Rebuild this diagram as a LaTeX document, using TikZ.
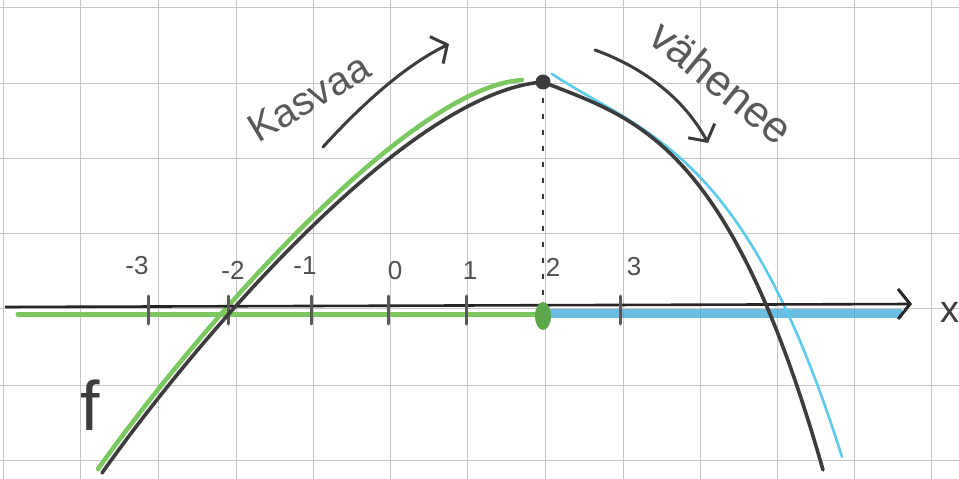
\documentclass[tikz,border=0pt]{standalone}
\usepackage{fontspec}
\setmainfont{Liberation Sans}
\usetikzlibrary{arrows.meta}
\definecolor{pencil}{HTML}{3C3C3C}
\definecolor{grn}{HTML}{7CC860}
\definecolor{grndark}{HTML}{5DA84A}
\definecolor{blu}{HTML}{3AA8D8}
\definecolor{cyn}{HTML}{5CCBEA}
\tikzset{
  gridline/.style={gray!45, line width=0.8pt},
  curve/.style={pencil, line width=3.6pt, line cap=round, line join=round},
  tickmark/.style={pencil!85, line width=3pt, line cap=round},
  lbl/.style={text=pencil!90, font=\fontsize{26}{28}\selectfont, inner sep=0pt},
  word/.style={text=pencil!85, font=\fontsize{40}{42}\selectfont, inner sep=0pt},
  barb/.style={-{Straight Barb[length=12pt,width=30pt,line width=3pt]}}
}
\begin{document}
\begin{tikzpicture}[x=1pt,y=-1pt]
\useasboundingbox (0,0) rectangle (959,479);
\fill[white] (0,0) rectangle (959,479);
% grid
\foreach \gx in {3,80,158,236,313,390,467,545,623,700,777,854,931}
  \draw[gridline] (\gx,0) -- (\gx,479);
\foreach \gy in {7,83,158,233,308,385,460}
  \draw[gridline] (0,\gy) -- (959,\gy);
% coloured axis bands
\draw[grn, line width=5pt, line cap=round] (18,314) -- (540,314);
\draw[blu, opacity=0.75, line width=9pt] (550,313) -- (902,313);
% coloured curve overlays
\draw[grn, line width=4.5pt, line cap=round] (98,469) .. controls (199,327) and (408,88) .. (522,80);
\draw[cyn, line width=2.6pt, line cap=round] plot[domain=0:2.9, samples=60]
  ({552+100*\x},{74+65.1*\x-17.76*\x*\x+14.08*\x*\x*\x});
% axis
\draw[black!85, line width=2.6pt, barb] (5,307) -- (912,304);
\node[text=pencil, font=\fontsize{38}{40}\selectfont, inner sep=0pt] (xl) at (950,312) {x};
% ticks
\foreach \tx in {148,228,311,388,466,620}
  \draw[tickmark] (\tx,296) -- (\tx,324);
\fill[grndark] (543,316) ellipse (8 and 14);
% tick labels
\node[lbl] (lm3) at (137,266) {-3};
\node[lbl] (lm2) at (233,270) {-2};
\node[lbl] (lm1) at (305,266) {-1};
\node[lbl] (l0)  at (395,271) {0};
\node[lbl] (l1)  at (470,271) {1};
\node[lbl] (l2)  at (553,267) {2};
\node[lbl] (l3)  at (634,267) {3};
% dashed line from vertex
\draw[pencil, line width=2.4pt, dash pattern=on 5pt off 11pt] (543,98) -- (543,300);
% graph f
\draw[curve] (102,473) .. controls (202,332) and (410,92) .. (543,82);
\draw[curve] plot[domain=0:2.8, samples=60]
  ({543+100*\x},{82+39.6*\x-5.62*\x*\x+14.63*\x*\x*\x});
\fill[pencil] (543,82) circle (7.5);
\coordinate (top) at (543,82);
\node[text=pencil, font=\fontsize{70}{72}\selectfont, inner sep=0pt] (f) at (90,405) {f};
% Kasvaa
\node[word, rotate=31] (kas) at (309,98) {Kasvaa};
\coordinate (ka1) at (323,147);
\coordinate (ka2) at (449,44);
\draw[pencil, line width=3pt, line cap=round, barb] (ka1) .. controls (355,112) and (400,68) .. (ka2);
% Vahenee
\node[word, font=\fontsize{44}{46}\selectfont, rotate=-39] (vah) at (722,82) {vähenee};
\coordinate (va1) at (595,50);
\coordinate (va2) at (708,143);
\draw[pencil, line width=3pt, line cap=round, barb] (va1) .. controls (645,68) and (685,100) .. (va2);
\end{tikzpicture}
\end{document}
